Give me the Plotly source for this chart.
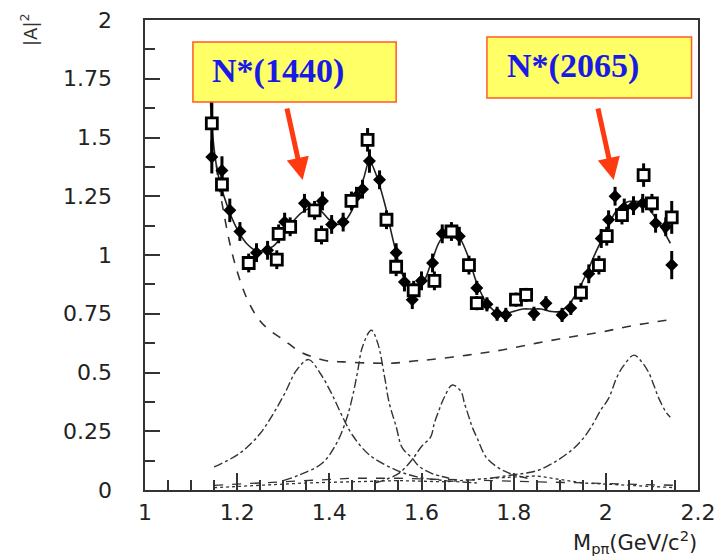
import plotly.graph_objects as go

# ---------------- data ----------------
open_x = [1.145, 1.167, 1.225, 1.286, 1.290, 1.315, 1.368, 1.383, 1.448, 1.483, 1.524, 1.545, 1.583,
          1.628, 1.665, 1.703, 1.720, 1.805, 1.827, 1.946, 1.985, 2.002, 2.035, 2.082, 2.100, 2.143]
open_y = [1.56, 1.30, 0.966, 0.98, 1.09, 1.12, 1.19, 1.085, 1.23, 1.49, 1.15, 0.95, 0.85,
          0.89, 1.10, 0.957, 0.795, 0.81, 0.83, 0.84, 0.957, 1.08, 1.17, 1.34, 1.22, 1.16]
open_err = [0.12, 0.05, 0.04, 0.04, 0.04, 0.04, 0.04, 0.04, 0.04, 0.05, 0.04, 0.04, 0.04,
            0.04, 0.04, 0.04, 0.03, 0.03, 0.03, 0.04, 0.04, 0.04, 0.04, 0.05, 0.04, 0.07]

fill_x = [1.145, 1.167, 1.184, 1.206, 1.242, 1.266, 1.303, 1.346, 1.385, 1.405, 1.430, 1.459, 1.472,
          1.487, 1.509, 1.545, 1.563, 1.580, 1.600, 1.624, 1.645, 1.682, 1.720, 1.742, 1.764, 1.783,
          1.844, 1.870, 1.905, 1.924, 1.963, 1.990, 2.006, 2.020, 2.040, 2.060, 2.080, 2.108, 2.130, 2.143]
fill_y = [1.417, 1.36, 1.19, 1.10, 1.01, 1.02, 1.14, 1.22, 1.23, 1.13, 1.14, 1.25, 1.28,
          1.40, 1.32, 1.01, 0.885, 0.81, 0.89, 0.966, 1.09, 1.08, 0.86, 0.79, 0.75, 0.745,
          0.75, 0.795, 0.745, 0.775, 0.92, 1.07, 1.15, 1.25, 1.20, 1.21, 1.22, 1.135, 1.12, 0.957]
fill_err = [0.07, 0.06, 0.05, 0.04, 0.04, 0.04, 0.04, 0.04, 0.04, 0.04, 0.04, 0.04, 0.04,
            0.05, 0.04, 0.04, 0.04, 0.04, 0.04, 0.04, 0.04, 0.04, 0.03, 0.03, 0.03, 0.03,
            0.03, 0.03, 0.03, 0.03, 0.04, 0.04, 0.04, 0.04, 0.04, 0.04, 0.04, 0.04, 0.04, 0.06]

fit_x = [1.14, 1.15, 1.16, 1.18, 1.20, 1.22, 1.24, 1.26, 1.28, 1.30, 1.32, 1.34, 1.36, 1.38, 1.40,
         1.42, 1.44, 1.46, 1.475, 1.487, 1.50, 1.52, 1.54, 1.56, 1.58, 1.60, 1.62, 1.64, 1.66, 1.68,
         1.70, 1.72, 1.74, 1.76, 1.78, 1.80, 1.82, 1.84, 1.86, 1.88, 1.90, 1.92, 1.94, 1.96, 1.98,
         2.00, 2.02, 2.04, 2.06, 2.08, 2.10, 2.12, 2.14]
fit_y = [1.72, 1.45, 1.33, 1.20, 1.11, 1.05, 1.02, 1.02, 1.04, 1.09, 1.14, 1.18, 1.20, 1.19, 1.15,
         1.13, 1.16, 1.24, 1.33, 1.40, 1.35, 1.22, 1.05, 0.91, 0.85, 0.87, 0.96, 1.06, 1.10, 1.08,
         1.00, 0.88, 0.80, 0.76, 0.75, 0.76, 0.77, 0.77, 0.77, 0.76, 0.76, 0.79, 0.85, 0.93, 1.02,
         1.10, 1.18, 1.22, 1.23, 1.22, 1.18, 1.12, 1.05]

bkg_x = [1.155, 1.16, 1.17, 1.184, 1.20, 1.22, 1.242, 1.264, 1.30, 1.335, 1.364, 1.394, 1.43,
         1.49, 1.54, 1.59, 1.61, 1.70, 1.775, 1.85, 1.92, 1.99, 2.06, 2.14]
bkg_y = [1.38, 1.30, 1.19, 1.05, 0.93, 0.82, 0.74, 0.69, 0.64, 0.59, 0.566, 0.55, 0.545,
         0.54, 0.54, 0.55, 0.553, 0.574, 0.596, 0.625, 0.65, 0.672, 0.70, 0.725]

p1_x = [1.15, 1.206, 1.249, 1.277, 1.303, 1.329, 1.355, 1.379, 1.405, 1.429, 1.45, 1.487, 1.545,
        1.59, 1.65, 1.72]
p1_y = [0.098, 0.157, 0.238, 0.32, 0.41, 0.51, 0.555, 0.50, 0.41, 0.31, 0.234, 0.149, 0.085,
        0.056, 0.04, 0.03]

p2_x = [1.30, 1.335, 1.385, 1.416, 1.437, 1.45, 1.461, 1.472, 1.491, 1.505, 1.52, 1.53, 1.545,
        1.558, 1.58, 1.595, 1.623, 1.66]
p2_y = [0.04, 0.064, 0.115, 0.20, 0.30, 0.395, 0.50, 0.61, 0.68, 0.625, 0.48, 0.37, 0.27,
        0.18, 0.135, 0.10, 0.07, 0.05]

p3_x = [1.50, 1.55, 1.58, 1.60, 1.62, 1.628, 1.638, 1.65, 1.667, 1.686, 1.693, 1.703, 1.71,
        1.721, 1.74, 1.764, 1.79, 1.83]
p3_y = [0.03, 0.07, 0.13, 0.185, 0.226, 0.285, 0.34, 0.397, 0.447, 0.418, 0.37, 0.31, 0.268,
        0.22, 0.14, 0.098, 0.072, 0.05]

p4_x = [1.75, 1.80, 1.827, 1.855, 1.89, 1.926, 1.948, 1.967, 1.989, 2.006, 2.024, 2.039, 2.061,
        2.078, 2.093, 2.104, 2.115, 2.132, 2.14]
p4_y = [0.05, 0.065, 0.072, 0.085, 0.12, 0.17, 0.213, 0.264, 0.34, 0.39, 0.48, 0.53, 0.574,
        0.545, 0.50, 0.447, 0.39, 0.327, 0.31]

low1_x = [1.15, 1.25, 1.35, 1.45, 1.55, 1.65, 1.75, 1.85, 1.95, 2.05, 2.15]
low1_y = [0.02, 0.03, 0.04, 0.05, 0.05, 0.045, 0.04, 0.035, 0.03, 0.025, 0.02]
low2_x = [1.15, 1.25, 1.35, 1.45, 1.55, 1.65, 1.75, 1.85, 1.95, 2.05, 2.15]
low2_y = [0.01, 0.02, 0.03, 0.035, 0.04, 0.035, 0.05, 0.06, 0.03, 0.02, 0.01]

x_ticks = [1.0, 1.2, 1.4, 1.6, 1.8, 2.0, 2.2]
x_labels = ["1", "1.2", "1.4", "1.6", "1.8", "2", "2.2"]
y_ticks = [0, 0.25, 0.5, 0.75, 1.0, 1.25, 1.5, 1.75, 2.0]
y_labels = ["0", "0.25", "0.5", "0.75", "1", "1.25", "1.5", "1.75", "2"]

labels = ["N*(1440)", "N*(2065)"]
label_tip_x = [1.342, 2.017]
label_tip_y = [1.319, 1.319]

# ---------------- figure ----------------
# the page body adds an 8px offset; figure sized so the plot frame lands
# at screen x 145..698, y 20..490
OFF = 8
W, H = 716, 548
L, T = 145 - OFF, 20 - OFF
R = W - (698 - OFF)
B = H - (490 - OFF)
PW, PH = W - L - R, H - T - B


def px_to_paper(px, py):
    return (px - OFF - L) / PW, (H - B - (py - OFF)) / PH


fig = go.Figure()

curve_col = "#333333"
fig.add_trace(go.Scatter(x=low1_x, y=low1_y, mode="lines",
                         line=dict(color=curve_col, width=1.3, dash="dash")))
fig.add_trace(go.Scatter(x=low2_x, y=low2_y, mode="lines",
                         line=dict(color=curve_col, width=1.3, dash="dot")))
fig.add_trace(go.Scatter(x=bkg_x, y=bkg_y, mode="lines", line_shape="spline",
                         line=dict(color=curve_col, width=1.6, dash="dash")))
for px, py in [(p1_x, p1_y), (p2_x, p2_y), (p3_x, p3_y), (p4_x, p4_y)]:
    fig.add_trace(go.Scatter(x=px, y=py, mode="lines", line_shape="spline",
                             line=dict(color=curve_col, width=1.4, dash="dashdot")))

fig.add_trace(go.Scatter(x=fit_x, y=fit_y, mode="lines", line_shape="spline",
                         line=dict(color="#222222", width=1.6)))

fig.add_trace(go.Scatter(
    x=fill_x, y=fill_y, mode="markers",
    marker=dict(symbol="diamond", size=10, color="black"),
    error_y=dict(type="data", array=fill_err, thickness=3, width=0, color="black"),
    error_x=dict(type="constant", value=0.008, thickness=3, width=0, color="black")))

fig.add_trace(go.Scatter(
    x=open_x, y=open_y, mode="markers",
    marker=dict(symbol="square", size=11, color="white",
                line=dict(color="black", width=2.8)),
    error_y=dict(type="data", array=open_err, thickness=3, width=0, color="black"),
    error_x=dict(type="constant", value=0.008, thickness=3, width=0, color="black")))

# annotation boxes
boxes = [(1.104, 1.545, 1.651, 1.906), (1.742, 2.186, 1.668, 1.928)]
text_pos = [(1.141, 1.785), (1.781, 1.805)]
for (x0, x1, y0, y1), (tx, ty), lab, ax_, ay_ in zip(boxes, text_pos, labels,
                                                    label_tip_x, label_tip_y):
    fig.add_shape(type="rect", x0=x0, x1=x1, y0=y0, y1=y1, xref="x", yref="y",
                  fillcolor="#ffff66", line=dict(color="#ff5a2a", width=1.5), layer="above")
    fig.add_annotation(x=tx, y=ty, xref="x", yref="y", text="<b>" + lab + "</b>",
                       showarrow=False, xanchor="left", yanchor="middle",
                       font=dict(family="Liberation Serif", size=34, color="#1a1ae6"))
    fig.add_annotation(x=ax_, y=ay_, xref="x", yref="y", text="", showarrow=True,
                       ax=-16, ay=-73, arrowhead=2, arrowsize=0.9, arrowwidth=5,
                       arrowcolor="#ff3a10", standoff=0)

axis_font = dict(family="DejaVu Sans", size=22, color="#222222")

# y tick labels, right-aligned well left of the axis as in the reference
ylab_x, _ = px_to_paper(114, 0)
for v, lab in zip(y_ticks, y_labels):
    fig.add_annotation(x=ylab_x, y=v, xref="paper", yref="y", text=lab,
                       showarrow=False, xanchor="right", yanchor="middle",
                       font=axis_font)

# axis titles
yt_x, yt_y = px_to_paper(29, 30)
fig.add_annotation(x=yt_x, y=yt_y, xref="paper", yref="paper", text="|A|<sup>2</sup>",
                   showarrow=False, textangle=-90, xanchor="center", yanchor="middle",
                   font=dict(family="DejaVu Sans", size=18, color="#333333"))
xt_x, xt_y = px_to_paper(699, 542)
fig.add_annotation(x=xt_x, y=xt_y, xref="paper", yref="paper",
                   text="M<sub>pπ</sub>(GeV/c<sup>2</sup>)", showarrow=False,
                   xanchor="right", yanchor="middle",
                   font=dict(family="DejaVu Sans", size=21, color="#222222"))

fig.update_layout(
    width=W, height=H,
    margin=dict(l=L, r=R, t=T, b=B, autoexpand=False),
    paper_bgcolor="white", plot_bgcolor="white",
    showlegend=False,
    xaxis=dict(range=[1, 2.2], tickvals=x_ticks, ticktext=x_labels, automargin=False,
               ticks="inside", ticklen=17, tickwidth=1.5, tickcolor="#333333",
               showline=True, linecolor="#333333", linewidth=1.5, mirror=True,
               showgrid=False, zeroline=False, tickfont=axis_font,
               ticklabelstandoff=2,
               minor=dict(tick0=1, dtick=0.05, ticks="inside", ticklen=10,
                          tickwidth=1.5, tickcolor="#333333", showgrid=False)),
    yaxis=dict(range=[0, 2], tickvals=y_ticks, showticklabels=False, automargin=False,
               ticks="inside", ticklen=15, tickwidth=1.5, tickcolor="#333333",
               showline=True, linecolor="#333333", linewidth=1.5, mirror=True,
               showgrid=False, zeroline=False,
               minor=dict(tick0=0, dtick=0.125, ticks="inside", ticklen=10,
                          tickwidth=1.5, tickcolor="#333333", showgrid=False)),
)

fig.write_html("out.html")
